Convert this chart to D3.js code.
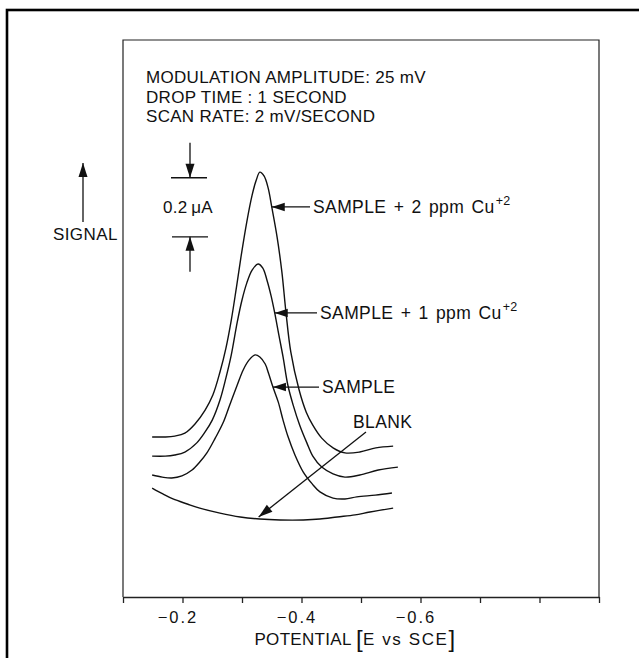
<!DOCTYPE html>
<html><head><meta charset="utf-8">
<script src="https://cdn.jsdelivr.net/npm/d3@7"></script>
<style>
html,body{margin:0;padding:0;background:#fff;}
svg{display:block;}
text{font-family:"Liberation Sans",Arial,sans-serif;fill:#111;}
</style>
</head><body>
<svg id="c" width="639" height="658"></svg>
<script>
// ---------- data (potential in V vs SCE, signal in µA) ----------
const potential2ppm = [-0.149,-0.171,-0.187,-0.204,-0.221,-0.238,-0.251,-0.263,-0.273,-0.282,-0.290,-0.298,-0.308,-0.317,-0.324,-0.330,-0.337,-0.344,-0.350,-0.359,-0.367,-0.374,-0.382,-0.396,-0.408,-0.419,-0.434,-0.453,-0.473,-0.498,-0.525,-0.554];
const signal2ppm    = [0.542,0.542,0.545,0.555,0.586,0.633,0.684,0.762,0.843,0.938,1.040,1.148,1.270,1.361,1.412,1.439,1.426,1.385,1.321,1.219,1.101,0.962,0.830,0.701,0.626,0.582,0.538,0.505,0.488,0.491,0.505,0.511];

const potential1ppm = [-0.149,-0.171,-0.187,-0.204,-0.224,-0.238,-0.250,-0.263,-0.273,-0.282,-0.292,-0.300,-0.308,-0.317,-0.327,-0.335,-0.342,-0.349,-0.355,-0.362,-0.369,-0.377,-0.386,-0.397,-0.409,-0.419,-0.434,-0.453,-0.473,-0.498,-0.529,-0.562];
const signal1ppm    = [0.477,0.477,0.481,0.491,0.522,0.559,0.599,0.667,0.742,0.820,0.931,1.006,1.063,1.107,1.128,1.114,1.073,1.019,0.962,0.887,0.813,0.718,0.650,0.582,0.522,0.477,0.440,0.417,0.406,0.413,0.430,0.440];

const potentialSample = [-0.149,-0.166,-0.182,-0.199,-0.216,-0.229,-0.241,-0.255,-0.268,-0.280,-0.292,-0.302,-0.312,-0.322,-0.330,-0.339,-0.345,-0.352,-0.361,-0.369,-0.377,-0.389,-0.403,-0.418,-0.431,-0.453,-0.473,-0.493,-0.524,-0.552];
const signalSample    = [0.413,0.406,0.403,0.410,0.430,0.457,0.488,0.538,0.589,0.654,0.718,0.769,0.803,0.820,0.813,0.789,0.755,0.711,0.660,0.599,0.545,0.481,0.423,0.383,0.356,0.335,0.332,0.339,0.345,0.352];

const potentialBlank = [-0.149,-0.167,-0.184,-0.208,-0.229,-0.263,-0.297,-0.330,-0.364,-0.403,-0.431,-0.460,-0.490,-0.515,-0.554];
const signalBlank    = [0.369,0.349,0.332,0.315,0.301,0.284,0.271,0.264,0.261,0.261,0.264,0.271,0.278,0.288,0.301];

const xTickValues = [-0.1,-0.2,-0.3,-0.4,-0.5,-0.6,-0.7,-0.8,-0.9];
const xTickLabels = {"-0.2":"\u22120.2","-0.4":"\u22120.4","-0.6":"\u22120.6"};

const headerLines = ["MODULATION AMPLITUDE: 25 mV","DROP TIME : 1 SECOND","SCAN RATE: 2 mV/SECOND"];
const scaleBarMicroAmp = 0.2;

// ---------- drawing ----------
const svg = d3.select("#c");
const x = d3.scaleLinear().domain([-0.1,-0.9]).range([123,599]);
const y = d3.scaleLinear().domain([0,1.9]).range([597,36]);
const FONT = '"Liberation Sans",Arial,sans-serif';

// outer frame
svg.append("rect").attr("x",7).attr("y",10).attr("width",700).attr("height",700)
  .attr("fill","none").attr("stroke","#000").attr("stroke-width",2.6);

// inner plot box
svg.append("path").attr("d","M123,597V40H599V597")
  .attr("fill","none").attr("stroke","#222").attr("stroke-width",1.2);

// x axis
const ax = svg.append("g").attr("transform","translate(0,597)")
  .call(d3.axisBottom(x).tickValues(xTickValues).tickSize(6).tickSizeOuter(0).tickPadding(8)
    .tickFormat(d => xTickLabels[String(d)] || ""));
ax.select(".domain").attr("stroke","#222").attr("stroke-width",1.3);
ax.selectAll(".tick line").attr("stroke","#222").attr("stroke-width",1.3);
ax.selectAll(".tick text").attr("font-family",FONT).attr("font-size",16.5).attr("fill","#111")
  .attr("letter-spacing","2px").attr("dx",-5);

// axis title
const tt = svg.append("text").attr("x",355).attr("y",645).attr("text-anchor","middle")
  .attr("font-size",17).attr("letter-spacing","0.3px");
tt.append("tspan").text("POTENTIAL ");
tt.append("tspan").attr("font-size",24).attr("font-weight",300).attr("dy",2).text("[");
tt.append("tspan").attr("dy",-2).attr("letter-spacing","1.6px").text("E vs SCE");
tt.append("tspan").attr("font-size",24).attr("font-weight",300).attr("dy",2).text("]");

// curves
const line = d3.line().x(d=>x(d[0])).y(d=>y(d[1])).curve(d3.curveCatmullRom.alpha(0.5));
const series = [
  [potential2ppm, signal2ppm],
  [potential1ppm, signal1ppm],
  [potentialSample, signalSample],
  [potentialBlank, signalBlank]
];
series.forEach(([p,s]) => {
  svg.append("path").attr("d", line(p.map((v,i)=>[v,s[i]])))
    .attr("fill","none").attr("stroke","#111").attr("stroke-width",1.4);
});

// arrow helper
function arrow(x1,y1,x2,y2,len=13,hw=4.2){
  svg.append("line").attr("x1",x1).attr("y1",y1).attr("x2",x2).attr("y2",y2)
    .attr("stroke","#111").attr("stroke-width",1.3);
  const a = Math.atan2(y2-y1,x2-x1);
  const bx = x2 - len*Math.cos(a), by = y2 - len*Math.sin(a);
  const px = -Math.sin(a)*hw, py = Math.cos(a)*hw;
  svg.append("path").attr("d",`M${x2},${y2}L${bx+px},${by+py}L${bx-px},${by-py}Z`).attr("fill","#111");
}

// header
headerLines.forEach((t,i)=>{
  svg.append("text").attr("x",146).attr("y",83+i*19.5).attr("font-size",17).attr("letter-spacing","0.3px").text(t);
});

// SIGNAL arrow
arrow(83,222,83,163,14,4.5);
svg.append("text").attr("x",53).attr("y",240).attr("font-size",17).attr("letter-spacing","0.4px").text("SIGNAL");

// scale bar (0.2 µA) drawn with the y scale
const sbBase = 1.22;
const yT = y(sbBase+scaleBarMicroAmp), yB = y(sbBase);
svg.append("line").attr("x1",171).attr("x2",207).attr("y1",yT).attr("y2",yT).attr("stroke","#111").attr("stroke-width",1.3);
svg.append("line").attr("x1",172).attr("x2",208).attr("y1",yB).attr("y2",yB).attr("stroke","#111").attr("stroke-width",1.3);
arrow(190,yT-35,190,yT,14,4.5);
arrow(190,yB+35,190,yB,14,4.5);
svg.append("text").attr("x",188).attr("y",(yT+yB)/2+6).attr("text-anchor","middle").attr("font-size",17)
  .attr("letter-spacing","0.3px").text("0.2\u2009\u03bcA");

// curve labels
function label(tipP,tipS,textX,txt,sup){
  const tx = x(tipP), ty = y(tipS);
  arrow(textX-3,ty,tx,ty,13,4.3);
  const t = svg.append("text").attr("x",textX).attr("y",ty+6).attr("font-size",17.5)
    .attr("letter-spacing","0.4px").attr("word-spacing","2px");
  t.append("tspan").text(txt);
  if(sup){ t.append("tspan").attr("font-size",12.5).attr("dy",-8).attr("dx",1).text(sup); }
}
label(-0.350,1.321,313,"SAMPLE + 2 ppm Cu","+2");
label(-0.355,0.962,320,"SAMPLE + 1 ppm Cu","+2");
label(-0.352,0.711,322,"SAMPLE",null);

// BLANK
svg.append("text").attr("x",353).attr("y",428).attr("font-size",17.5).attr("letter-spacing","0.4px").text("BLANK");
arrow(366,432,x(-0.328),y(0.271),14,4.5);
</script>
</body></html>
